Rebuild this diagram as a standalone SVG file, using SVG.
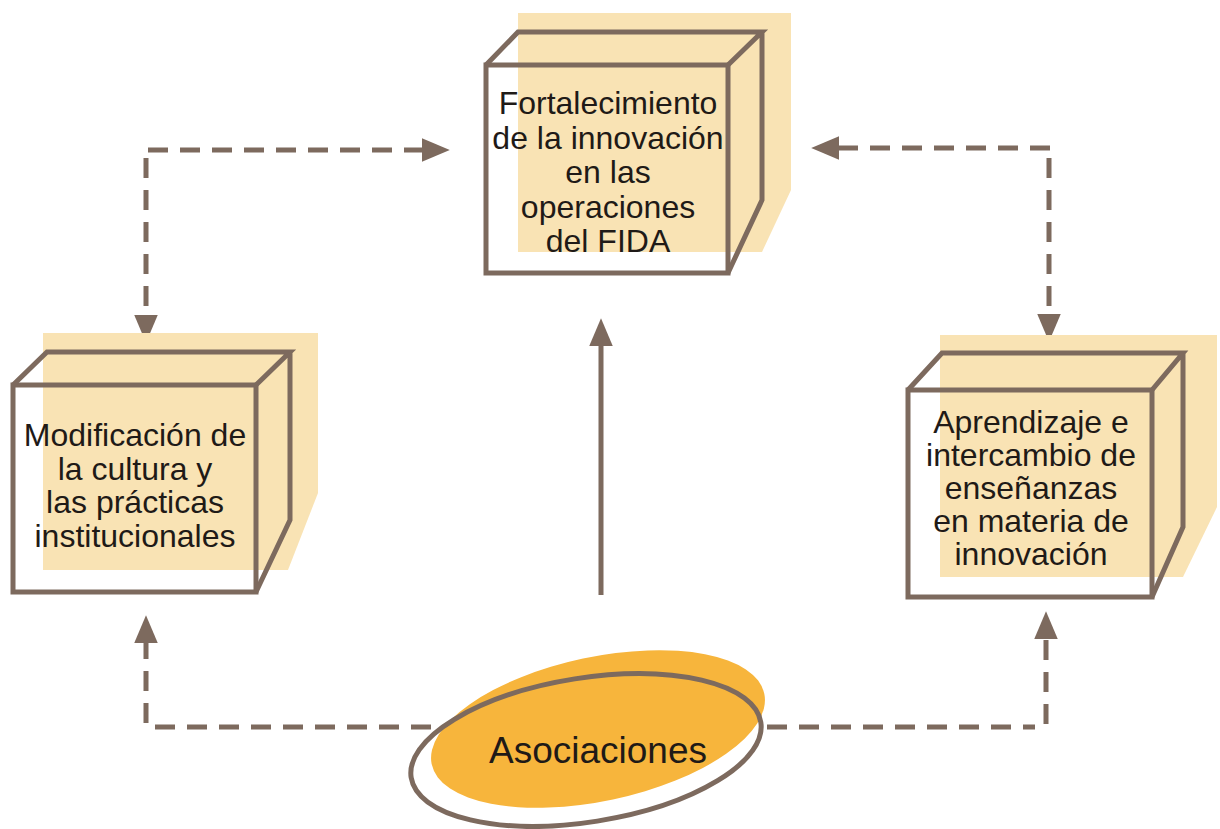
<svg xmlns="http://www.w3.org/2000/svg" width="1220" height="829" viewBox="0 0 1220 829">
<defs>
<style>
.bg{fill:#f9e3b4;stroke:none}
.cube{fill:none;stroke:#7d6a5e;stroke-width:5;stroke-linejoin:miter}
.lbl{font-family:"Liberation Sans",Arial,sans-serif;font-size:32px;fill:#1f1a17;text-anchor:middle}
.dash{fill:none;stroke:#7d6a5e;stroke-width:5;stroke-dasharray:20 12}
.solid{fill:none;stroke:#7d6a5e;stroke-width:5}
</style>
<marker id="ah" markerUnits="userSpaceOnUse" markerWidth="30" markerHeight="26" viewBox="0 -12 28 24" refX="1" refY="0" orient="auto">
<path d="M0,-11 L26,0 L0,11 z" fill="#7d6a5e"/>
</marker>
</defs>
<rect width="1220" height="829" fill="#ffffff"/>
<g id="connectors">
<path class="dash" d="M148,150 H423" marker-end="url(#ah)"/>
<path class="dash" d="M146,158 V316" marker-end="url(#ah)"/>
<path class="dash" d="M1050,148 H838" marker-end="url(#ah)"/>
<path class="dash" d="M1049,158 V315" marker-end="url(#ah)"/>
<path class="dash" d="M146,723 V642" marker-end="url(#ah)"/>
<path class="dash" d="M155,727 H432"/>
<path class="dash" d="M767,727 H1035"/>
<path class="dash" d="M1046,724 V638" marker-end="url(#ah)"/>
<path class="solid" d="M601,595 V345" marker-end="url(#ah)"/>
</g>
<g id="node-top">
<path class="bg" d="M518,13 H791 V190 L762,252 H518 Z"/>
<rect class="cube" x="486" y="65" width="242" height="208"/>
<path class="cube" d="M486,65 L518,32 H762 L728,65 M762,32 V200 L728,273"/>
<text class="lbl" x="608" y="114">Fortalecimiento</text>
<text class="lbl" x="608" y="148.5">de la innovación</text>
<text class="lbl" x="608" y="183">en las</text>
<text class="lbl" x="608" y="217.5">operaciones</text>
<text class="lbl" x="608" y="252">del FIDA</text>
</g>
<g id="node-left">
<path class="bg" d="M43,333 H318 V493 L288,570 H43 Z"/>
<rect class="cube" x="13" y="385" width="243" height="207"/>
<path class="cube" d="M13,385 L47,352 H290 L256,385 M290,352 V520 L256,592"/>
<text class="lbl" x="135" y="446">Modificación de</text>
<text class="lbl" x="135" y="479.5">la cultura y</text>
<text class="lbl" x="135" y="513">las prácticas</text>
<text class="lbl" x="135" y="546.5">institucionales</text>
</g>
<g id="node-right">
<path class="bg" d="M940,335 H1217 V507 L1183,577 H940 Z"/>
<rect class="cube" x="908" y="390" width="244" height="207"/>
<path class="cube" d="M908,390 L942,353 H1183 L1152,390 M1183,353 V527 L1152,597"/>
<text class="lbl" x="1031" y="433">Aprendizaje e</text>
<text class="lbl" x="1031" y="466">intercambio de</text>
<text class="lbl" x="1031" y="499">enseñanzas</text>
<text class="lbl" x="1031" y="532">en materia de</text>
<text class="lbl" x="1031" y="565">innovación</text>
</g>
<g id="node-asociaciones">
<ellipse cx="598" cy="729" rx="170" ry="72" transform="rotate(-12 598 729)" fill="#f7b53c"/>
<ellipse cx="586" cy="750" rx="177" ry="72" transform="rotate(-9 586 750)" fill="none" stroke="#7d6a5e" stroke-width="5"/>
<text x="598" y="763" font-family="'Liberation Sans',Arial,sans-serif" font-size="37" fill="#1f1a17" text-anchor="middle">Asociaciones</text>
</g>
</svg>
